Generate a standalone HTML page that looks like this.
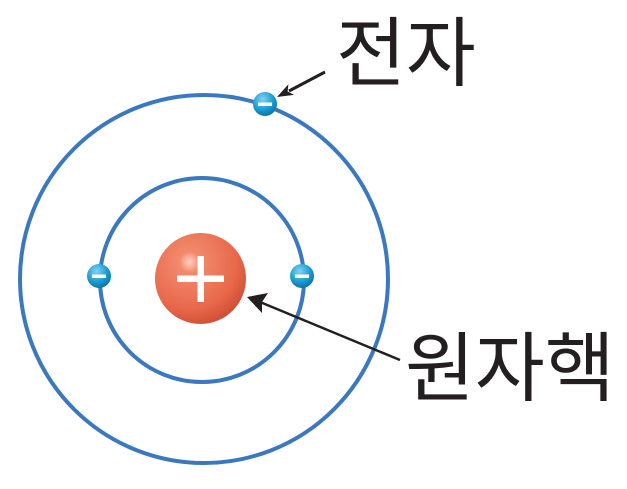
<!DOCTYPE html>
<html><head><meta charset="utf-8"><style>
html,body{margin:0;padding:0;background:#fff;width:627px;height:489px;overflow:hidden}
svg{display:block}
text{font-family:"Liberation Sans","Noto Sans CJK KR",sans-serif;fill:#231f20}
</style></head><body>
<svg width="627" height="489" viewBox="0 0 627 489" xmlns="http://www.w3.org/2000/svg">
<defs>
<radialGradient id="nuc" cx="0.38" cy="0.32" r="0.75">
<stop offset="0" stop-color="#fbd3c4"/>
<stop offset="0.15" stop-color="#f28a6c"/>
<stop offset="0.7" stop-color="#e8674a"/>
<stop offset="1" stop-color="#c84a32"/>
</radialGradient>
<radialGradient id="el" cx="0.4" cy="0.3" r="0.75">
<stop offset="0" stop-color="#7fd3f3"/>
<stop offset="0.6" stop-color="#1a9bd0"/>
<stop offset="1" stop-color="#0d6ea0"/>
</radialGradient>
</defs>
<circle cx="204" cy="279" r="184" fill="none" stroke="#3a78c0" stroke-width="4"/>
<circle cx="202" cy="280" r="102" fill="none" stroke="#3a78c0" stroke-width="4"/>
<circle cx="200.5" cy="278.5" r="45.5" fill="url(#nuc)"/>
<rect x="177" y="275.5" width="47" height="6.5" fill="#fff"/>
<rect x="197.5" y="256" width="6.5" height="46" fill="#fff"/>
<g>
<circle cx="265" cy="104" r="12" fill="url(#el)"/><rect x="258" y="102.5" width="14" height="3.5" fill="#fff"/>
<circle cx="99" cy="276" r="12" fill="url(#el)"/><rect x="92" y="274.5" width="14" height="3.5" fill="#fff"/>
<circle cx="302" cy="276" r="12" fill="url(#el)"/><rect x="295" y="274.5" width="14" height="3.5" fill="#fff"/>
</g>
<line x1="325" y1="72" x2="289" y2="91" stroke="#231f20" stroke-width="3"/>
<polygon points="277,97 288.4,84.3 287.6,91.5 294,94.9" fill="#231f20"/>
<line x1="400" y1="360" x2="260" y2="302" stroke="#231f20" stroke-width="2.5"/>
<polygon points="247,297 268,293 262,302 262,313" fill="#231f20"/>
<text x="336" y="80" font-size="76">전자</text>
<text x="405" y="395" font-size="76">원자핵</text>
</svg>
</body></html>
